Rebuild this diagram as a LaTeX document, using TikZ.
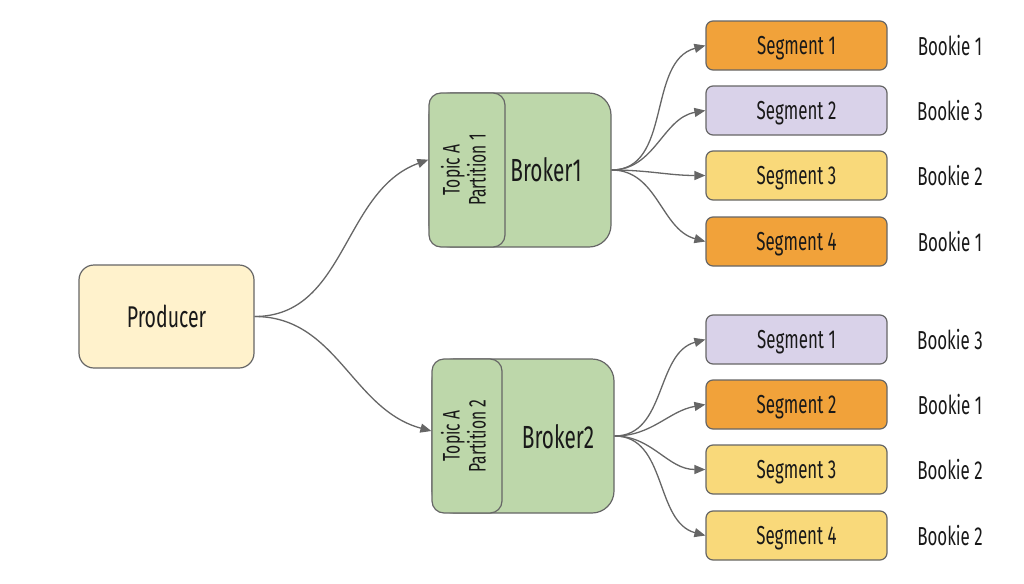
\documentclass[tikz,border=0pt]{standalone}
\usepackage{fontspec}
\setmainfont[FakeStretch=0.65]{Fira Sans}
\usepackage{tikz}
\usetikzlibrary{positioning,arrows.meta}
\definecolor{prFill}{RGB}{255,242,204}
\definecolor{brFill}{RGB}{189,215,170}
\definecolor{orFill}{RGB}{241,162,58}
\definecolor{lvFill}{RGB}{217,210,233}
\definecolor{ylFill}{RGB}{249,217,122}
\definecolor{edLine}{RGB}{102,102,102}
\definecolor{txt}{RGB}{25,25,25}
\newcommand{\topicpart}[1]{\rotatebox{90}{\begin{tabular}{@{}c@{}}Topic A\\Partition #1\end{tabular}}}

\begin{document}
\begin{tikzpicture}[x=0.5pt,y=-0.5pt,>={Triangle[length=5.5pt,width=4.5pt]},
  box/.style ={draw=edLine,line width=0.6pt,align=center,inner sep=0pt,text=txt},
  prod/.style={box,fill=prFill,rounded corners=7.5pt,minimum width=87.5pt,minimum height=51.5pt,font=\fontsize{15}{17}\selectfont},
  brk/.style ={box,fill=brFill,rounded corners=11pt,minimum width=91pt,minimum height=77pt},
  part/.style={box,fill=brFill,rounded corners=6pt,minimum height=77pt,font=\fontsize{12}{12.5}\selectfont},
  brl/.style ={text=txt,font=\fontsize{16}{18}\selectfont},
  seg/.style ={box,rounded corners=3.5pt,minimum width=90.5pt,minimum height=24.5pt,text height=9.5pt,text depth=0.5pt,font=\fontsize{13}{15}\selectfont},
  bk/.style  ={text=txt,font=\fontsize{13}{15}\selectfont},
  fl/.style  ={->,edLine,line width=0.65pt}]
\useasboundingbox (0,0) rectangle (1024,584);
\node[prod] (prod) at (166.5,316.5) {Producer};
% brokers
\node[brk] (b1) at (520,170) {};
\node[part,minimum width=38pt] (p1) at (467,170) {\topicpart{1}};
\node[brl] (b1l) at (546,170) {Broker1};
\node[brk] (b2) at (523,436) {};
\node[part,minimum width=35pt] (p2) at (467,436) {\topicpart{2}};
\node[brl] (b2l) at (558,437) {Broker2};
% segments of partition 1
\node[seg,fill=orFill] (s11) at (796.5,45.5)  {Segment 1};
\node[seg,fill=lvFill] (s12) at (796.5,110.5) {Segment 2};
\node[seg,fill=ylFill] (s13) at (796.5,175.5) {Segment 3};
\node[seg,fill=orFill] (s14) at (796.5,241.5) {Segment 4};
\node[bk] (k11) at (950,45.5)  {Bookie 1};
\node[bk] (k12) at (950,110.5) {Bookie 3};
\node[bk] (k13) at (950,175.5) {Bookie 2};
\node[bk] (k14) at (950,241.5) {Bookie 1};
% segments of partition 2
\node[seg,fill=lvFill] (s21) at (796.5,339.5) {Segment 1};
\node[seg,fill=orFill] (s22) at (796.5,404.5) {Segment 2};
\node[seg,fill=ylFill] (s23) at (796.5,469.5) {Segment 3};
\node[seg,fill=ylFill] (s24) at (796.5,535.5) {Segment 4};
\node[bk] (k21) at (950,339.5) {Bookie 3};
\node[bk] (k22) at (950,404.5) {Bookie 1};
\node[bk] (k23) at (950,469.5) {Bookie 2};
\node[bk] (k24) at (950,535.5) {Bookie 2};
% links
\draw[fl] (prod.east) to[out=0,in=200] (p1.165);
\draw[fl] (prod.east) to[out=0,in=165] (p2.172);
\draw[fl] (b1.east) to[out=0,in=195] (s11.west);
\draw[fl] (b1.east) to[out=0,in=190] (s12.west);
\draw[fl] (b1.east) to[out=0,in=180] (s13.west);
\draw[fl] (b1.east) to[out=0,in=165] (s14.west);
\draw[fl] (b2.east) to[out=0,in=195] (s21.west);
\draw[fl] (b2.east) to[out=0,in=190] (s22.west);
\draw[fl] (b2.east) to[out=0,in=180] (s23.west);
\draw[fl] (b2.east) to[out=0,in=165] (s24.west);
\end{tikzpicture}
\end{document}
